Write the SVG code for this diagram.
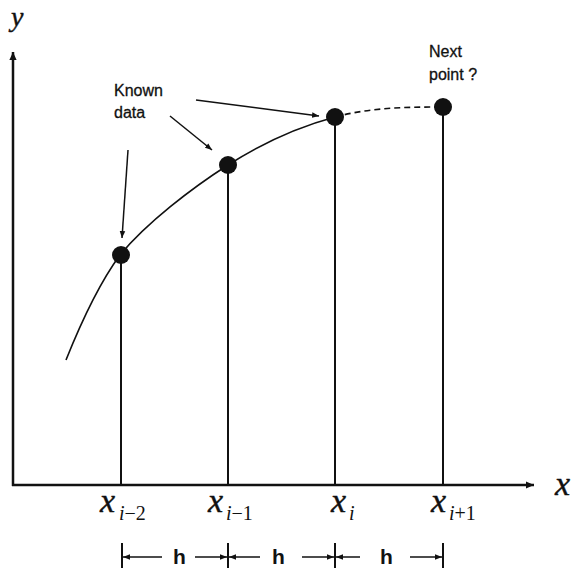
<svg xmlns="http://www.w3.org/2000/svg" width="580" height="573" viewBox="0 0 580 573">
<style>
.ax{stroke:#111;stroke-width:2.5;fill:none}
.vl{stroke:#111;stroke-width:2;fill:none}
.cv{stroke:#111;stroke-width:1.6;fill:none}
.ar{stroke:#111;stroke-width:1.5;fill:none}
.pt{fill:#111}
.lab{font-family:"Liberation Sans",Arial,sans-serif;font-size:16px;fill:#111;stroke:#111;stroke-width:0.3}
.hx{font-family:"Liberation Sans",Arial,sans-serif;font-size:21px;font-weight:bold;fill:#111}
.mx{font-family:"Liberation Serif","Times New Roman",serif;font-style:italic;font-size:34px;fill:#111;stroke:#111;stroke-width:0.4}
.sub{font-family:"Liberation Serif","Times New Roman",serif;font-size:20px;fill:#111}
</style>
<defs>
<marker id="ah" viewBox="0 0 10 10" refX="10" refY="5" markerWidth="7" markerHeight="7" markerUnits="userSpaceOnUse" orient="auto">
<path d="M0,1 L10,5 L0,9 z" fill="#111"/>
</marker>
<marker id="axh" viewBox="0 0 10 10" refX="10" refY="5" markerWidth="10" markerHeight="8" markerUnits="userSpaceOnUse" orient="auto">
<path d="M0,0.5 L10,5 L0,9.5 z" fill="#111"/>
</marker>
</defs>
<g id="axes">
<line class="ax" x1="13" y1="486" x2="13" y2="52" marker-end="url(#axh)"/>
<line class="ax" x1="12" y1="485" x2="534" y2="485" marker-end="url(#axh)"/>
<text class="mx" x="11" y="26" style="font-size:28px">y</text>
<text class="mx" x="555" y="495">x</text>
</g>
<g id="connectors">
<path class="cv" d="M66,360 C78,330 98,285 120,255 C147,222.5 192,188 228,165 C264,142 299,126.7 335,117"/>
<path class="cv" stroke-dasharray="6,4" d="M335,117 C371,107.3 407,107 443,107"/>
<line class="ar" x1="128" y1="150" x2="122" y2="238" marker-end="url(#ah)"/>
<line class="ar" x1="170" y1="116" x2="212" y2="150" marker-end="url(#ah)"/>
<line class="ar" x1="196" y1="100" x2="319" y2="116" marker-end="url(#ah)"/>
</g>
<g id="p1"><line class="vl" x1="121" y1="255" x2="121" y2="485"/><circle class="pt" cx="121" cy="255" r="9"/></g>
<g id="p2"><line class="vl" x1="228" y1="165" x2="228" y2="485"/><circle class="pt" cx="228" cy="165" r="9"/></g>
<g id="p3"><line class="vl" x1="335" y1="117" x2="335" y2="485"/><circle class="pt" cx="335" cy="117" r="9"/></g>
<g id="p4"><line class="vl" x1="443" y1="107" x2="443" y2="485"/><circle class="pt" cx="443" cy="107" r="9"/></g>
<g id="labels">
<text class="lab" x="114" y="96">Known</text>
<text class="lab" x="114" y="118">data</text>
<text class="lab" x="429" y="57">Next</text>
<text class="lab" x="429" y="80">point ?</text>
<text class="mx" x="100" y="512">x</text><text class="sub" x="119" y="520"><tspan font-style="italic">i</tspan>−2</text>
<text class="mx" x="208" y="512">x</text><text class="sub" x="226" y="520"><tspan font-style="italic">i</tspan>−1</text>
<text class="mx" x="331" y="512">x</text><text class="sub" x="349" y="520" font-style="italic">i</text>
<text class="mx" x="431" y="512">x</text><text class="sub" x="449" y="520"><tspan font-style="italic">i</tspan>+1</text>
</g>
<g id="spacing">
<line class="vl" x1="122" y1="543" x2="122" y2="568"/>
<line class="vl" x1="228" y1="543" x2="228" y2="568"/>
<line class="vl" x1="335" y1="543" x2="335" y2="568"/>
<line class="vl" x1="443" y1="543" x2="443" y2="568"/>
<line class="ar" x1="162" y1="557" x2="123" y2="557" marker-end="url(#ah)"/>
<line class="ar" x1="195" y1="557" x2="227" y2="557" marker-end="url(#ah)"/>
<line class="ar" x1="260" y1="557" x2="229" y2="557" marker-end="url(#ah)"/>
<line class="ar" x1="302" y1="557" x2="334" y2="557" marker-end="url(#ah)"/>
<line class="ar" x1="360" y1="557" x2="336" y2="557" marker-end="url(#ah)"/>
<line class="ar" x1="410" y1="557" x2="442" y2="557" marker-end="url(#ah)"/>
<text class="hx" x="173" y="564">h</text>
<text class="hx" x="272" y="564">h</text>
<text class="hx" x="380" y="564">h</text>
</g>
</svg>
